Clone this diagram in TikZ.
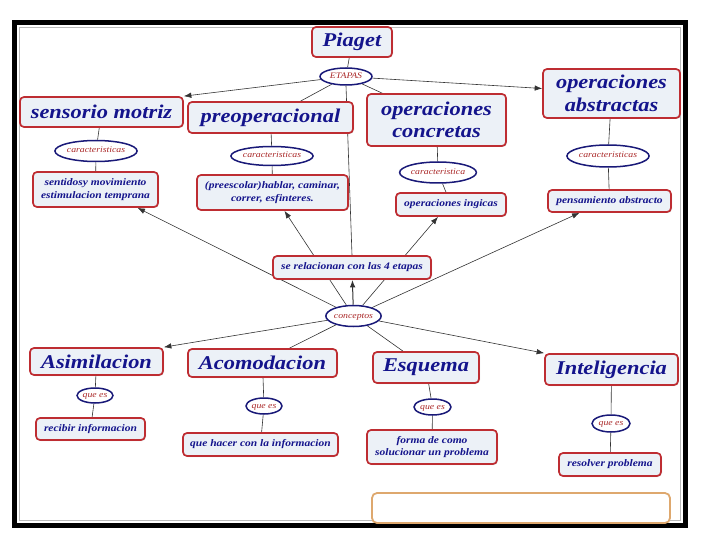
\documentclass[tikz,border=0pt]{standalone}
\usepackage{fontspec}
\newfontfamily\bk{Liberation Serif}[FakeStretch=1.15]
\usetikzlibrary{arrows.meta,shadows,backgrounds,shapes.geometric}
\definecolor{boxred}{RGB}{190,45,50}
\definecolor{boxfill}{RGB}{236,241,247}
\definecolor{navy}{RGB}{20,20,140}
\definecolor{elln}{RGB}{25,25,120}
\definecolor{elltext}{RGB}{170,40,40}
\definecolor{orangeb}{RGB}{222,168,110}
\tikzset{
 cbox/.style={draw=boxred, line width=1.7pt, fill=boxfill, rounded corners=4pt, inner sep=0pt, text=navy, align=center, drop shadow={opacity=0.25,shadow xshift=1pt,shadow yshift=-1pt}},
 big/.style={cbox, font=\bk\bfseries\itshape\fontsize{19.5}{22.5}\selectfont},
 small/.style={cbox, font=\bk\bfseries\itshape\fontsize{10}{12.5}\selectfont},
 oval/.style={ellipse, draw=elln, line width=1.5pt, fill=white, inner sep=0pt, text=elltext, text height=5.5pt, text depth=1.5pt, font=\bk\itshape\fontsize{8.5}{10}\selectfont},
 link/.style={draw=black!80, line width=0.6pt},
 arr/.style={link, -{Latex[length=7.5pt,width=5.5pt]}},
}
\begin{document}
\begin{tikzpicture}[x=1pt,y=-1pt]
\useasboundingbox (0,0) rectangle (720,540);
% frame
\draw[line width=5pt] (14.5,22.5) rectangle (685.5,525.5);
\draw[gray!55, line width=1.5pt] (19.5,27.5) rectangle (680.5,520.5);

% top level
\node[big, minimum width=80pt, minimum height=30pt] (piaget) at (352,42) {Piaget};
\node[oval, minimum width=52pt, minimum height=17pt] (etapas) at (346,76.5) {ETAPAS};

\node[big, minimum width=163pt, minimum height=30pt] (sensorio) at (101.5,112) {sensorio motriz};
\node[big, minimum width=165pt, minimum height=31pt] (preop) at (270.5,117.5) {preoperacional};
\node[big, minimum width=139pt, minimum height=52pt] (concretas) at (436.5,120) {operaciones\\concretas};
\node[big, minimum width=137pt, minimum height=49pt] (abstractas) at (611.5,93.5) {operaciones\\abstractas};

\node[oval, minimum width=68pt, minimum height=21pt] (car1) at (96,151) {caracteristicas};
\node[oval, minimum width=70pt, minimum height=19pt] (car2) at (272,156) {caracteristicas};
\node[oval, minimum width=67pt, minimum height=21pt] (car3) at (438,172.5) {caracteristica};
\node[oval, minimum width=70pt, minimum height=22pt] (car4) at (608,156) {caracteristicas};

\node[small, minimum width=125pt, minimum height=35pt] (sentidos) at (95.5,189.5) {sentidosy movimiento\\estimulacion temprana};
\node[small, minimum width=151pt, minimum height=35pt] (preescolar) at (272.5,192.5) {(preescolar)hablar, caminar,\\correr, esfinteres.};
\node[small, minimum width=110pt, minimum height=23pt] (ingicas) at (451,204.5) {operaciones ingicas};
\node[small, minimum width=123pt, minimum height=22pt] (pensamiento) at (609.5,201) {pensamiento abstracto};

\node[small, minimum width=158pt, minimum height=23pt] (relacionan) at (352,267.5) {se relacionan con las 4 etapas};
\node[oval, minimum width=51pt, minimum height=21pt] (conceptos) at (353.5,316) {conceptos};

% bottom level
\node[big, minimum width=133pt, minimum height=27pt] (asim) at (96.5,361.5) {Asimilacion};
\node[big, minimum width=149pt, minimum height=28pt] (acom) at (262.5,363) {Acomodacion};
\node[big, minimum width=106pt, minimum height=31pt] (esq) at (426,367.5) {Esquema};
\node[big, minimum width=133pt, minimum height=31pt] (intel) at (611.5,369.5) {Inteligencia};

\node[oval, minimum width=36pt, minimum height=15pt] (qe1) at (95,395.5) {que es};
\node[oval, minimum width=36pt, minimum height=16pt] (qe2) at (264,406) {que es};
\node[oval, minimum width=37pt, minimum height=16pt] (qe3) at (432.5,407) {que es};
\node[oval, minimum width=38pt, minimum height=17pt] (qe4) at (611,423.5) {que es};

\node[small, minimum width=109pt, minimum height=22pt] (recibir) at (90.5,429) {recibir informacion};
\node[small, minimum width=155pt, minimum height=23pt] (quehacer) at (260.5,444.5) {que hacer con la informacion};
\node[small, minimum width=130pt, minimum height=34pt] (forma) at (432,447) {forma de como\\solucionar un problema};
\node[small, minimum width=102pt, minimum height=23pt] (resolver) at (610,464.5) {resolver problema};

\node[draw=orangeb, line width=1.8pt, rounded corners=5pt, fill=white, minimum width=298pt, minimum height=30pt, inner sep=0pt] (blank) at (521,508) {};

\begin{pgfonlayer}{background}
\draw[link] (piaget) -- (etapas);
\draw[arr] (etapas) -- (sensorio.north east);
\draw[link] (etapas) -- ([xshift=30pt]preop.north);
\draw[link] (etapas.south) -- (relacionan.north);
\draw[link] (etapas) -- ([xshift=16pt]concretas.north west);
\draw[arr] (etapas) -- ([yshift=5pt]abstractas.west);

\draw[link] (sensorio) -- (car1) -- (sentidos);
\draw[link] (preop) -- (car2) -- (preescolar);
\draw[link] (concretas) -- (car3) -- (ingicas);
\draw[link] (abstractas) -- (car4) -- (pensamiento);

\draw[arr, line width=1pt] (conceptos) -- (relacionan);
\draw[arr] (conceptos) -- ([xshift=42pt]sentidos.south);
\draw[arr] (conceptos) -- ([xshift=12pt]preescolar.south);
\draw[arr] (conceptos) -- ([xshift=-13pt]ingicas.south);
\draw[arr] (conceptos) -- ([xshift=-30pt]pensamiento.south);
\draw[arr] (conceptos) -- (asim.north east);
\draw[link] (conceptos) -- ([xshift=27pt]acom.north);
\draw[link] (conceptos) -- ([xshift=-23pt]esq.north);
\draw[arr] (conceptos) -- (intel.north west);

\draw[link] (asim) -- (qe1) -- (recibir);
\draw[link] (acom) -- (qe2) -- (quehacer);
\draw[link] (esq) -- (qe3) -- (forma);
\draw[link] (intel) -- (qe4) -- (resolver);
\end{pgfonlayer}
\end{tikzpicture}
\end{document}
